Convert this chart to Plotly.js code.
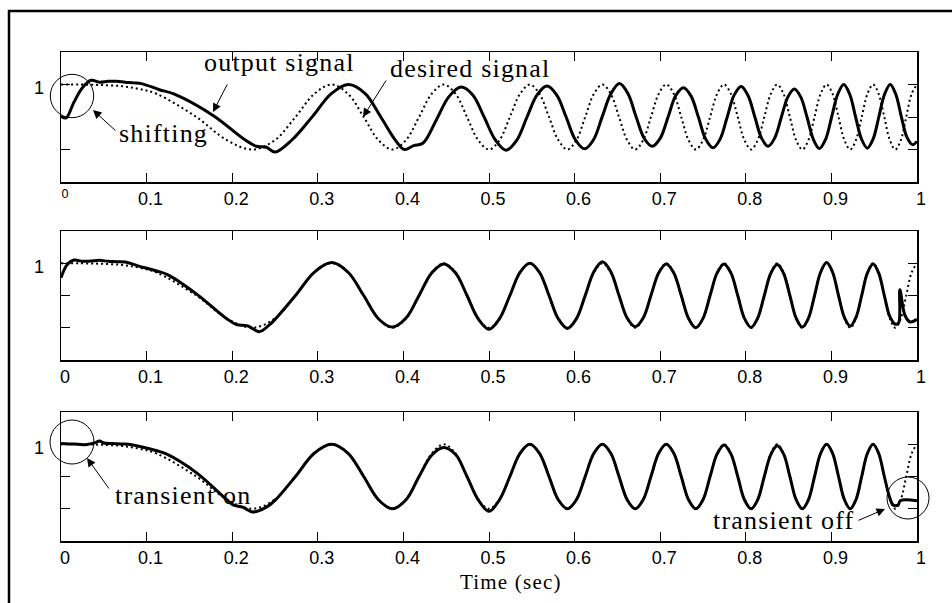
<!DOCTYPE html>
<html><head><meta charset="utf-8">
<script src="https://cdn.plot.ly/plotly-3.0.1.min.js"></script>
<style>
html,body{margin:0;padding:0;background:#fff;}
#chart{width:952px;height:603px;}
.annotation-text{letter-spacing:1.2px;}
</style></head><body><div id="chart"></div>
<script>
// ---- data ----
const X_TICKS = [0, 0.1, 0.2, 0.3, 0.4, 0.5, 0.6, 0.7, 0.8, 0.9, 1];
const X_TICK_LABELS = ['0', '0.1', '0.2', '0.3', '0.4', '0.5', '0.6', '0.7', '0.8', '0.9', '1'];
const X_TICK_LABELS_TOP = ['<sup>0</sup>', '0.1', '0.2', '0.3', '0.4', '0.5', '0.6', '0.7', '0.8', '0.9', '1'];
const Y_TICKS = [1];
const Y_TICK_LABELS = ['1'];
const Y_MINOR_STEP = 1;

// desired signal (dotted), same in all panels
const T_DESIRED = [0, 0.04, 0.07, 0.09, 0.1118, 0.1581, 0.1936, 0.2236, 0.25, 0.2739, 0.2958, 0.3162, 0.3354, 0.3536, 0.3708, 0.3873, 0.4031, 0.4183, 0.4330, 0.4472, 0.4610, 0.4743, 0.4873, 0.5, 0.5123, 0.5244, 0.5362, 0.5477, 0.5590, 0.5701, 0.5809, 0.5916, 0.6021, 0.6124, 0.6225, 0.6325, 0.6423, 0.6519, 0.6614, 0.6708, 0.6801, 0.6892, 0.6982, 0.7071, 0.7159, 0.7246, 0.7331, 0.7416, 0.75, 0.7583, 0.7665, 0.7746, 0.7826, 0.7906, 0.7984, 0.8062, 0.8139, 0.8216, 0.8292, 0.8367, 0.8441, 0.8515, 0.8588, 0.8660, 0.8732, 0.8803, 0.8874, 0.8944, 0.9014, 0.9083, 0.9152, 0.9220, 0.9287, 0.9354, 0.9421, 0.9487, 0.9552, 0.9618, 0.9682, 0.9747, 0.9811, 0.9874, 0.9937, 1.0];
const Y_DESIRED = [1, 0.99, 0.95, 0.87,
  0.71, 0, -0.71, -1, -0.71, 0, 0.71, 1,
  0.71, 0, -0.71, -1, -0.71, 0, 0.71, 1,
  0.71, 0, -0.71, -1, -0.71, 0, 0.71, 1,
  0.71, 0, -0.71, -1, -0.71, 0, 0.71, 1,
  0.71, 0, -0.71, -1, -0.71, 0, 0.71, 1,
  0.71, 0, -0.71, -1, -0.71, 0, 0.71, 1,
  0.71, 0, -0.71, -1, -0.71, 0, 0.71, 1,
  0.71, 0, -0.71, -1, -0.71, 0, 0.71, 1,
  0.71, 0, -0.71, -1, -0.71, 0, 0.71, 1,
  0.71, 0, -0.71, -1, -0.71, 0, 0.71, 1];

// panel 1 output (shifted)
const T_OUT1 = [0, 0.006, 0.015, 0.025, 0.035, 0.045, 0.055, 0.065, 0.075, 0.085, 0.095, 0.115, 0.1318, 0.1781, 0.2136, 0.228, 0.24, 0.25, 0.27, 0.2939, 0.3158, 0.3362, 0.3554, 0.3736, 0.3908, 0.401, 0.412, 0.4231, 0.4383, 0.4530, 0.4672, 0.4810, 0.4943, 0.5073, 0.52, 0.5323, 0.5444, 0.5562, 0.5677, 0.5790, 0.5901, 0.6009, 0.6116, 0.6221, 0.6324, 0.6425, 0.6525, 0.6623, 0.6719, 0.6814, 0.6908, 0.7001, 0.7092, 0.7182, 0.7271, 0.7359, 0.7446, 0.7531, 0.7616, 0.77, 0.7783, 0.7865, 0.7946, 0.8026, 0.8106, 0.8184, 0.8262, 0.8339, 0.8416, 0.8492, 0.8567, 0.8641, 0.8715, 0.8788, 0.8860, 0.8932, 0.9003, 0.9074, 0.9144, 0.9214, 0.9283, 0.9352, 0.9420, 0.9487, 0.9554, 0.9621, 0.9687, 0.9752, 0.9818, 0.9882, 0.9947, 1.0];
const Y_OUT1 = [0.02, -0.03, 0.45, 0.9, 1.13, 1.07, 1.1, 1.1, 1.07, 1.05, 1.02, 0.84, 0.71, 0.04, -0.68, -0.9, -0.93, -1.08, -0.7, 0.02, 0.72, 1.0, 0.72, 0.0, -0.72, -1.0, -0.88, -0.8, -0.1, 0.62, 0.92, 0.68, 0, -0.7, -1.02, -0.72, 0, 0.68, 0.95, 0.68, 0, -0.7, -0.98, -0.7, 0.02, 0.72, 1.03, 0.72, 0, -0.66, -0.9, -0.65, 0, 0.66, 0.9, 0.65, 0, -0.68, -0.95, -0.68, 0, 0.68, 0.94, 0.66, 0, -0.65, -0.9, -0.64, 0, 0.62, 0.86, 0.62, 0, -0.68, -0.97, -0.69, 0, 0.7, 1.0, 0.7, 0, -0.68, -0.96, -0.68, 0, 0.7, 1.0, 0.7, 0, -0.62, -0.85, -0.75];

// panel 2 output
const T_OUT2 = [0, 0.007, 0.015, 0.025, 0.035, 0.045, 0.055, 0.065, 0.075, 0.09, 0.1118, 0.125, 0.1581, 0.1936, 0.205, 0.218, 0.232, 0.243, 0.25, 0.2739, 0.2958, 0.3162, 0.3354, 0.3536, 0.3708, 0.3873, 0.4031, 0.4183, 0.4330, 0.4472, 0.4610, 0.4743, 0.4873, 0.5, 0.5123, 0.5244, 0.5362, 0.5477, 0.5590, 0.5701, 0.5809, 0.5916, 0.6021, 0.6124, 0.6225, 0.6325, 0.6423, 0.6519, 0.6614, 0.6708, 0.6801, 0.6892, 0.6982, 0.7071, 0.7159, 0.7246, 0.7331, 0.7416, 0.75, 0.7583, 0.7665, 0.7746, 0.7826, 0.7906, 0.7984, 0.8062, 0.8139, 0.8216, 0.8292, 0.8367, 0.8441, 0.8515, 0.8588, 0.8660, 0.8732, 0.8803, 0.8874, 0.8944, 0.9014, 0.9083, 0.9152, 0.9220, 0.9287, 0.9354, 0.9421, 0.9487, 0.9552, 0.9618, 0.9682, 0.9747, 0.9785, 0.9800, 0.986, 0.992, 1.0];
const Y_OUT2 = [0.55, 0.95, 1.1, 1.06, 1.07, 1.09, 1.06, 1.05, 1.04, 0.92, 0.76, 0.64, 0.05, -0.72, -0.9, -0.94, -1.12, -0.92, -0.74, 0, 0.72, 1.02, 0.72, 0, -0.72, -0.98, -0.7, 0, 0.7, 0.98, 0.7, 0, -0.72, -1.05, -0.72, 0, 0.72, 1.0, 0.72, 0, -0.72, -1.02, -0.72, 0, 0.74, 1.05, 0.74, 0, -0.7, -0.97, -0.7, 0, 0.7, 0.98, 0.7, 0, -0.71, -1.0, -0.71, 0, 0.7, 0.98, 0.7, 0, -0.71, -0.99, -0.7, 0, 0.69, 0.96, 0.69, 0, -0.7, -0.98, -0.7, 0, 0.72, 1.02, 0.72, 0, -0.68, -0.95, -0.68, 0, 0.7, 0.98, 0.7, 0, -0.65, -0.89, -0.85, 0.18, -0.62, -0.82, -0.74];

// panel 3 output
const T_OUT3 = [0, 0.01, 0.02, 0.03, 0.04, 0.045, 0.05, 0.06, 0.07, 0.084, 0.1118, 0.123, 0.1581, 0.1936, 0.201, 0.212, 0.224, 0.24, 0.25, 0.2739, 0.2958, 0.3162, 0.3354, 0.3536, 0.3708, 0.3873, 0.4031, 0.4183, 0.4330, 0.4472, 0.4610, 0.4743, 0.4873, 0.5, 0.5123, 0.5244, 0.5362, 0.5477, 0.5590, 0.5701, 0.5809, 0.5916, 0.6021, 0.6124, 0.6225, 0.6325, 0.6423, 0.6519, 0.6614, 0.6708, 0.6801, 0.6892, 0.6982, 0.7071, 0.7159, 0.7246, 0.7331, 0.7416, 0.75, 0.7583, 0.7665, 0.7746, 0.7826, 0.7906, 0.7984, 0.8062, 0.8139, 0.8216, 0.8292, 0.8367, 0.8441, 0.8515, 0.8588, 0.8660, 0.8732, 0.8803, 0.8874, 0.8944, 0.9014, 0.9083, 0.9152, 0.9220, 0.9287, 0.9354, 0.9421, 0.9487, 0.9552, 0.9618, 0.9682, 0.972, 0.978, 0.9805, 1.0];
const Y_OUT3 = [1.02, 1.01, 1.0, 0.99, 1.05, 1.1, 1.04, 1.02, 1.01, 0.98, 0.8, 0.7, 0.12, -0.72, -0.88, -0.95, -1.1, -0.95, -0.74, 0, 0.72, 1.0, 0.72, 0, -0.72, -1.0, -0.72, 0, 0.66, 0.9, 0.68, 0, -0.72, -1.08, -0.72, 0, 0.72, 1.0, 0.72, 0, -0.72, -1.0, -0.72, 0, 0.72, 1.0, 0.72, 0, -0.72, -1.0, -0.72, 0, 0.72, 1.0, 0.72, 0, -0.72, -1.0, -0.72, 0, 0.7, 0.98, 0.7, 0, -0.72, -1.0, -0.72, 0, 0.68, 0.95, 0.7, 0, -0.72, -1.0, -0.72, 0, 0.72, 1.0, 0.72, 0, -0.72, -1.0, -0.72, 0, 0.72, 1.0, 0.72, 0, -0.66, -0.88, -0.88, -0.75, -0.75];

// ---- layout helpers ----
const W = 952, H = 603;
const PX = x => x / W;
const PY = y => 1 - y / H;
const XDOM = [PX(61), PX(917)];
const PANELS = [[52, 182], [231, 360], [412, 541]];

const dotted = {color: '#000', width: 2, dash: '2px,3px', shape: 'spline'};
const solid = {color: '#000', width: 3, shape: 'spline'};

const OUTS = [[T_OUT1, Y_OUT1], [T_OUT2, Y_OUT2], [T_OUT3, Y_OUT3]];
const data = [];
OUTS.forEach((o, i) => {
  const s = i === 0 ? '' : String(i + 1);
  data.push({x: T_DESIRED, y: Y_DESIRED, xaxis: 'x' + s, yaxis: 'y' + s, mode: 'lines', line: dotted, hoverinfo: 'skip', showlegend: false});
  data.push({x: o[0], y: o[1], xaxis: 'x' + s, yaxis: 'y' + s, mode: 'lines', line: solid, hoverinfo: 'skip', showlegend: false});
});

const tickFont = {family: '"Liberation Sans", Arial, sans-serif', size: 18, color: '#000'};
function xAxis(i) {
  return {domain: XDOM, range: [0, 1], anchor: i === 0 ? 'y' : 'y' + (i + 1),
    tickmode: 'array', tickvals: X_TICKS, ticktext: i === 0 ? X_TICK_LABELS_TOP : X_TICK_LABELS,
    ticks: 'inside', ticklen: 9, tickwidth: 1, tickcolor: '#000',
    showline: true, linecolor: '#000', linewidth: 1.5, mirror: 'ticks',
    showgrid: false, zeroline: false, tickfont: tickFont, fixedrange: true,
    ticklabelstandoff: 0, ticklabelshift: 4};
}
function yAxis(i) {
  const p = PANELS[i];
  return {domain: [PY(p[1]), PY(p[0])], range: [-2, 2], anchor: i === 0 ? 'x' : 'x' + (i + 1),
    tickmode: 'array', tickvals: Y_TICKS, ticktext: Y_TICK_LABELS,
    ticks: 'inside', ticklen: 9, tickwidth: 1, tickcolor: '#000',
    minor: {tick0: 0, dtick: Y_MINOR_STEP, ticks: 'inside', ticklen: 9, tickwidth: 1, tickcolor: '#000', showgrid: false},
    showline: true, linecolor: '#000', linewidth: 1.5, mirror: 'ticks',
    showgrid: false, zeroline: false, tickfont: tickFont, fixedrange: true,
    ticklabelstandoff: 12, ticklabelshift: 3};
}

const serif = {family: '"Liberation Serif", "Times New Roman", serif', size: 26, color: '#000'};
function label(text, cx, cy, size) {
  return {xref: 'paper', yref: 'paper', x: PX(cx), y: PY(cy), text: text, showarrow: false,
    xanchor: 'center', yanchor: 'middle', font: Object.assign({}, serif, size ? {size: size} : {})};
}
function arrow(tx, ty, hx, hy) {
  return {xref: 'paper', yref: 'paper', x: PX(hx), y: PY(hy), ax: tx - hx, ay: ty - hy,
    text: '', showarrow: true, arrowhead: 2, arrowsize: 1.7, arrowwidth: 1, arrowcolor: '#000',
    standoff: 0, startstandoff: 0};
}
function circle(cx, cy, r) {
  return {type: 'circle', xref: 'paper', yref: 'paper', x0: PX(cx - r), x1: PX(cx + r),
    y0: PY(cy + r), y1: PY(cy - r), line: {color: '#000', width: 1}};
}

const layout = {
  width: W, height: H, margin: {l: 0, r: 0, t: 0, b: 0},
  paper_bgcolor: '#fff', plot_bgcolor: '#fff', showlegend: false,
  xaxis: xAxis(0), xaxis2: xAxis(1), xaxis3: xAxis(2),
  yaxis: yAxis(0), yaxis2: yAxis(1), yaxis3: yAxis(2),
  annotations: [
    label('output signal', 279, 63),
    label('desired signal', 470, 68),
    label('shifting', 163, 133),
    label('transient on', 183, 495),
    label('transient off', 783, 520),
    label('Time (sec)', 511, 582, 21),
    arrow(228, 83, 213, 112),
    arrow(387, 79, 363, 117),
    arrow(117, 132, 93, 110),
    arrow(110, 490, 87, 458),
    arrow(857, 521, 885, 509)
  ],
  shapes: [
    circle(72, 96, 21.7),
    circle(72, 442, 22),
    circle(908, 498, 21),
    {type: 'line', xref: 'paper', yref: 'paper', x0: PX(8), x1: 1, y0: PY(11), y1: PY(11), line: {color: '#000', width: 2.5}},
    {type: 'line', xref: 'paper', yref: 'paper', x0: PX(9), x1: PX(9), y0: 0, y1: PY(10), line: {color: '#000', width: 2.5}}
  ]
};

Plotly.newPlot('chart', data, layout, {staticPlot: true, displayModeBar: false});
</script></body></html>
